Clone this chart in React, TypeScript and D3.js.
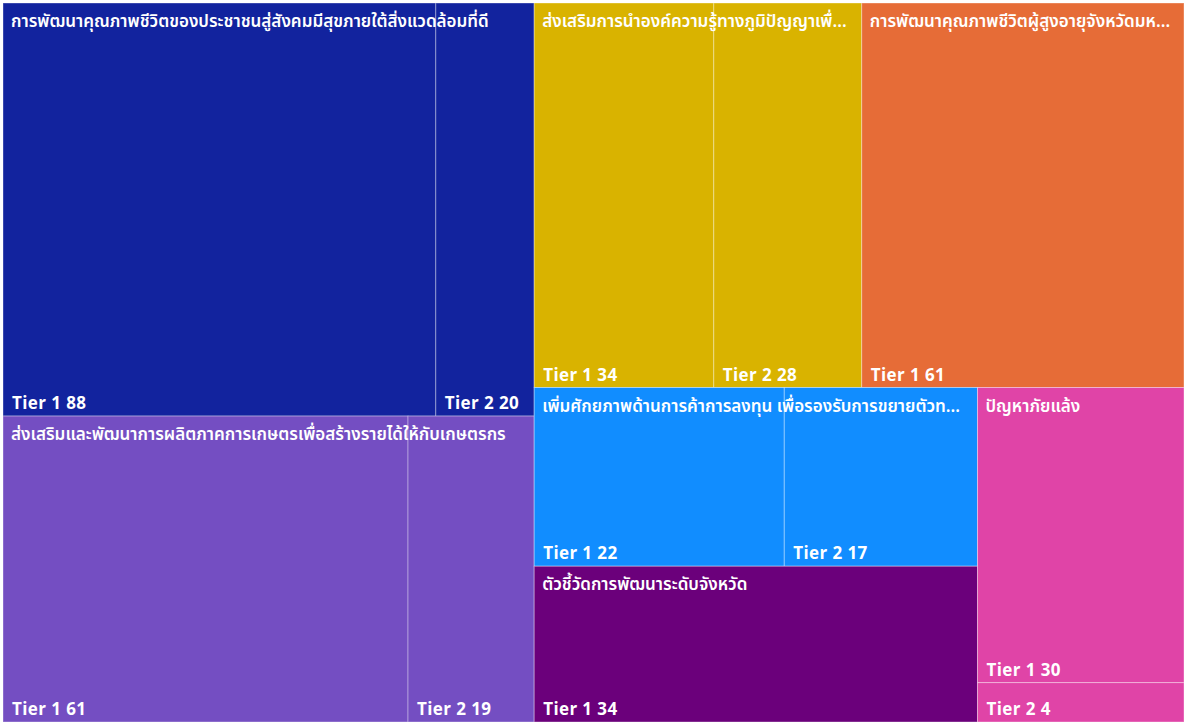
import React, { useLayoutEffect, useRef } from "react";
import * as d3 from "d3";

const groupNames = [
  "การพัฒนาคุณภาพชีวิตของประชาชนสู่สังคมมีสุขภายใต้สิ่งแวดล้อมที่ดี",
  "ส่งเสริมและพัฒนาการผลิตภาคการเกษตรเพื่อสร้างรายได้ให้กับเกษตรกร",
  "ส่งเสริมการนำองค์ความรู้ทางภูมิปัญญาเพื่...",
  "การพัฒนาคุณภาพชีวิตผู้สูงอายุจังหวัดมห...",
  "เพิ่มศักยภาพด้านการค้าการลงทุน เพื่อรองรับการขยายตัวท...",
  "ตัวชี้วัดการพัฒนาระดับจังหวัด",
  "ปัญหาภัยแล้ง",
];
const tier1Values = [88, 61, 34, 61, 22, 34, 30];
const tier2Values = [20, 19, 28, 0, 17, 0, 4];
const tierNames = ["Tier 1", "Tier 2"];
const groupColors = ["#12239E", "#744EC2", "#D9B300", "#E66C37", "#118DFF", "#6B007B", "#E044A7"];
const rowSizes = [2, 2, 2, 1];

const W = 1184;
const H = 722;
const OFF = 3;

function rootTile(node: any, x0: number, y0: number, x1: number, y1: number) {
  const kids = node.children;
  let i = 0;
  let remaining = node.value;
  for (const count of rowSizes) {
    const row = kids.slice(i, i + count);
    const rowVal = d3.sum(row, (d: any) => d.value);
    const dx = x1 - x0;
    const dy = y1 - y0;
    const fake: any = { children: row, value: rowVal };
    if (dx < dy) {
      const yy = y0 + (dy * rowVal) / remaining;
      d3.treemapDice(fake, x0, y0, x1, yy);
      y0 = yy;
    } else {
      const xx = x0 + (dx * rowVal) / remaining;
      d3.treemapSlice(fake, x0, y0, xx, y1);
      x0 = xx;
    }
    remaining -= rowVal;
    i += count;
  }
}

function tile(node: any, x0: number, y0: number, x1: number, y1: number) {
  if (node.depth === 0) rootTile(node, x0, y0, x1, y1);
  else d3.treemapSquarify(node, x0, y0, x1, y1);
}

const data = {
  name: "root",
  children: groupNames.map((name, gi) => ({
    name,
    gi,
    children: [tier1Values[gi], tier2Values[gi]]
      .map((v, ti) => ({ name: tierNames[ti], value: v, gi }))
      .filter((c) => c.value > 0),
  })),
};

const FONT = "'Segoe UI', 'Leelawadee UI', 'Noto Sans Thai', 'Noto Sans', sans-serif";

export default function App() {
  const labelsRef = useRef<SVGGElement | null>(null);
  const root = d3.hierarchy<any>(data).sum((d: any) => d.value || 0);
  d3.treemap<any>().size([W - OFF, H - OFF]).tile(tile as any)(root as any);
  const groups = (root.children || []) as any[];
  const leaves = root.leaves() as any[];

  useLayoutEffect(() => {
    if (!labelsRef.current) return;
    const texts = labelsRef.current.querySelectorAll("text");
    texts.forEach((t, i) => {
      const g = groups[i];
      const avail = g.x1 - g.x0 - 14;
      const full: string = g.data.name;
      const hasEllipsis = full.endsWith("...");
      const base = hasEllipsis ? full.slice(0, -3) : full;
      t.textContent = hasEllipsis ? base + "..." : base;
      if ((t as SVGTextElement).getComputedTextLength() <= avail) return;
      let n = base.length;
      while (n > 0) {
        n--;
        t.textContent = base.slice(0, n) + "...";
        if ((t as SVGTextElement).getComputedTextLength() <= avail) break;
      }
    });
  });

  return (
    <div style={{ position: "fixed", left: 0, top: 0, width: W, height: H, background: "#fff" }}>
      <svg width={W} height={H} style={{ display: "block" }}>
        <g transform={`translate(${OFF},${OFF})`}>
          {leaves.map((l, i) => (
            <rect
              key={i}
              x={l.x0}
              y={l.y0}
              width={l.x1 - l.x0}
              height={l.y1 - l.y0}
              fill={groupColors[l.data.gi]}
              stroke="rgba(255,255,255,0.35)"
              strokeWidth={1}
            />
          ))}
          {leaves.map((l, i) => (
            <text
              key={"t" + i}
              x={l.x0 + 9}
              y={l.y1 - 7}
              fill="#fff"
              fontFamily={FONT}
              fontWeight={700}
              fontSize={17}
              letterSpacing={0.4}
            >
              {`${l.data.name} ${l.data.value}`}
            </text>
          ))}
          <g ref={labelsRef}>
            {groups.map((g, i) => (
              <text
                key={"g" + i}
                x={g.x0 + 8}
                y={g.y0 + 24}
                fill="#fff"
                fontFamily={FONT}
                fontWeight={600}
                fontSize={17}
              >
                {g.data.name}
              </text>
            ))}
          </g>
        </g>
      </svg>
    </div>
  );
}
